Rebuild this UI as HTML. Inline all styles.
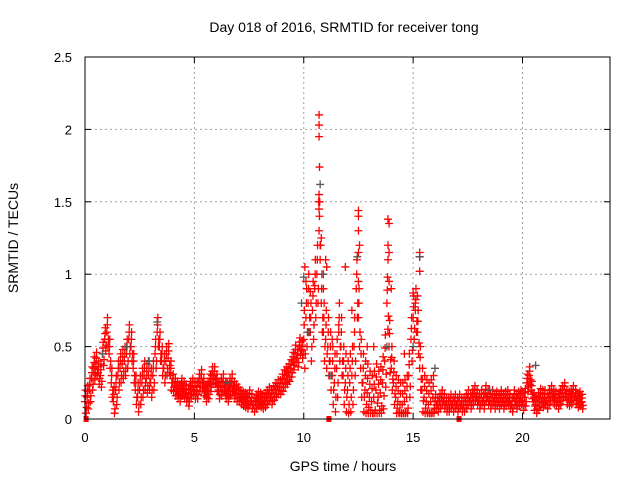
<!DOCTYPE html>
<html><head><meta charset="utf-8"><style>
body{margin:0;background:#fff}
svg{display:block;font-family:"Liberation Sans",sans-serif}
</style></head><body>
<svg id="chart" width="640" height="480">
<rect width="640" height="480" fill="#fff"/>
<text x="344" y="32" font-size="14" text-anchor="middle">Day 018 of 2016, SRMTID for receiver tong</text>
<text x="343" y="471" font-size="14" text-anchor="middle">GPS time / hours</text>
<text transform="translate(18,238) rotate(-90)" font-size="14" text-anchor="middle">SRMTID / TECUs</text>
<g id="grid"></g>
<g id="marks"></g>
<g id="gmarks"></g>
<rect x="85" y="57" width="525" height="362" fill="none" stroke="#000" stroke-width="1"/>
<g id="axes"></g>
</svg>
<script>
const xTicks=[0,5,10,15,20];
const yTicks=[0,0.5,1,1.5,2,2.5];
const yTickLabels=["0","0.5","1","1.5","2","2.5"];
const midVals=[0.12,0.15,0.2,0.28,0.35,0.38,0.32,0.3,0.45,0.55,0.6,
0.45,0.25,0.12,0.2,0.3,0.35,0.38,0.4,0.45,0.55,
0.5,0.35,0.2,0.15,0.2,0.25,0.3,0.28,0.3,0.25,
0.3,0.45,0.6,0.5,0.4,0.35,0.4,0.42,0.3,0.25,
0.22,0.2,0.18,0.22,0.2,0.18,0.15,0.2,0.22,0.2,
0.2,0.25,0.28,0.22,0.18,0.2,0.25,0.3,0.3,0.25,
0.2,0.22,0.25,0.2,0.18,0.22,0.25,0.2,0.18,0.17,
0.15,0.14,0.13,0.12,0.15,0.12,0.1,0.12,0.14,0.13,
0.12,0.13,0.15,0.17,0.15,0.18,0.2,0.22,0.22,0.25,
0.28,0.3,0.32,0.35,0.4,0.45,0.42,0.5,0.48,0.55,
0.7,0.8,0.6,0.75,0.9,1.0,1.3,0.8,0.6,0.55,
0.5,0.4,0.3,0.25,0.35,0.6,0.5,0.3,0.25,0.2,
0.25,0.3,0.5,0.9,0.7,0.35,0.25,0.2,0.18,0.15,
0.12,0.15,0.2,0.15,0.18,0.25,0.4,0.8,0.5,0.35,
0.25,0.15,0.12,0.1,0.1,0.12,0.15,0.3,0.55,0.7,
0.75,0.6,0.35,0.2,0.15,0.12,0.1,0.12,0.15,0.12,
0.1,0.12,0.15,0.12,0.1,0.1,0.12,0.1,0.12,0.1,
0.12,0.1,0.1,0.12,0.15,0.12,0.15,0.18,0.15,0.12,
0.15,0.12,0.18,0.15,0.12,0.15,0.12,0.14,0.12,0.15,
0.12,0.14,0.15,0.12,0.1,0.15,0.12,0.14,0.15,0.12,
0.15,0.25,0.3,0.2,0.12,0.1,0.12,0.15,0.14,0.15,
0.12,0.15,0.18,0.15,0.14,0.12,0.15,0.18,0.2,0.15,
0.14,0.15,0.18,0.15,0.13,0.14,0.12];
const hourSpread=[0.08,0.1,0.1,0.1,0.06,0.06,0.06,0.05,0.05,0.06,0.2,0.2,0.2,0.18,0.15,0.15,0.05,0.05,0.05,0.05,0.06,0.05,0.05];
const spikeT=[10.7,10.7,10.7,10.72,10.7,10.68,10.7,10.8,10.75,12.5,12.5,12.5,12.55,12.5,13.85,13.9,13.85,13.9,13.85,15.3,15.3,15.3,10.05,11.0,11.05,11.9,12.5,14.0,13.9,15.0,15.2,10.1,10.3,10.9,11.6,12.2,13.2,14.6,15.1,10.5,11.3,12.9];
const spikeV=[2.1,2.03,1.95,1.74,1.55,1.5,1.45,1.25,1.2,1.44,1.4,1.3,1.2,1.15,1.38,1.35,1.2,1.15,1.1,1.15,1.12,1.02,1.05,1.1,1.05,1.05,0.95,0.9,0.95,0.87,0.85,0.95,0.88,0.9,0.65,0.75,0.5,0.45,0.8,0.92,0.55,0.5];
const greyT=[10.0,10.9,10.75,12.45,15.3,3.3,2.9,16.0,20.6,9.9,11.2,10.2,13.8,15.0,0.8,1.9,6.5,18.5];
const greyV=[0.98,1.0,1.62,1.12,1.12,0.67,0.4,0.35,0.37,0.8,0.3,0.6,0.5,0.5,0.45,0.5,0.25,0.2];
const zeroT=[0.05,11.15,17.1];
const xs=t=>85+t*525/24, ys=v=>419-v*362/2.5;
const NS="http://www.w3.org/2000/svg";
function mk(tag,attrs,parent){const e=document.createElementNS(NS,tag);for(const k in attrs)e.setAttribute(k,attrs[k]);parent.appendChild(e);return e;}
const grid=document.getElementById('grid'),axes=document.getElementById('axes');
xTicks.forEach(t=>{const x=xs(t);
 if(t>0){const l=mk('line',{x1:x,x2:x,y1:57,y2:419,stroke:'#a0a0a0','stroke-dasharray':'2,3'},grid);
 
 }
 mk('line',{x1:x,x2:x,y1:419,y2:413,stroke:'#000'},axes);
 mk('line',{x1:x,x2:x,y1:57,y2:63,stroke:'#000'},axes);
 const tx=mk('text',{x:x,y:442,'font-size':13,'text-anchor':'middle'},axes);tx.textContent=t;
 
 });
yTicks.forEach((v,i)=>{const y=ys(v);
 if(v>0&&v<2.5){const l=mk('line',{x1:85,x2:610,y1:y,y2:y,stroke:'#a0a0a0','stroke-dasharray':'2,3'},grid);
 
 }
 mk('line',{x1:85,x2:91,y1:y,y2:y,stroke:'#000'},axes);
 mk('line',{x1:604,x2:610,y1:y,y2:y,stroke:'#000'},axes);
 const tx=mk('text',{x:72,y:y+5,'font-size':13,'text-anchor':'end'},axes);tx.textContent=yTickLabels[i];
 
 });
function plus(g,t,v,col){const x=xs(t),y=ys(v);
 const p=mk('path',{d:`M${x-4} ${y}h8M${x} ${y-4}v8`,stroke:col,'stroke-width':1.3,fill:'none'},g);
 
 }
const marks=document.getElementById('marks'),gm=document.getElementById('gmarks');
greyT.forEach((t,i)=>plus(gm,t,greyV[i],'#555'));
midVals.forEach((v,i)=>{const t=i*0.1;const s=hourSpread[Math.min(22,Math.floor(t))];
 plus(marks,t,v,'#f00');
 plus(marks,t+0.05,Math.max(0.04,v-s),'#f00');
 plus(marks,t+0.03,v+s,'#f00');
 plus(marks,t+0.07,Math.max(0.04,v-s/2),'#f00');
 plus(marks,t+0.02,v+s/2,'#f00');});
spikeT.forEach((t,i)=>plus(marks,t,spikeV[i],'#f00'));
zeroT.forEach(t=>{const r=mk('rect',{x:xs(t)-2.5,y:416,width:5,height:6,fill:'#f00'},marks);
 
 });
</script>
</body></html>
